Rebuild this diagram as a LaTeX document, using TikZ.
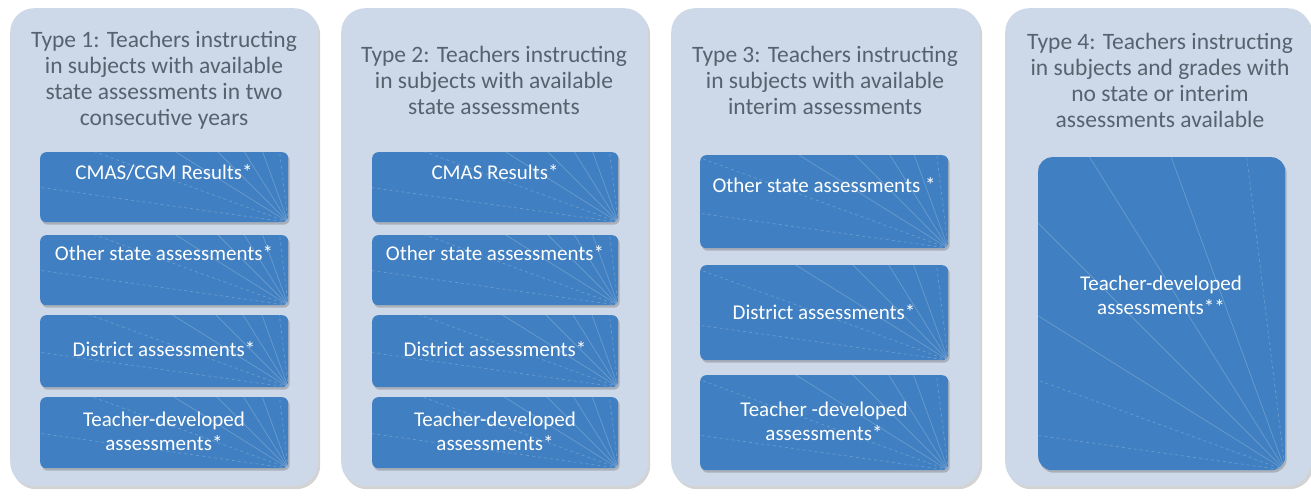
\documentclass[tikz,border=0pt]{standalone}
\usepackage{fontspec}
\setmainfont{Carlito}
\usetikzlibrary{shadows}
\definecolor{panelfill}{RGB}{205,217,233}
\definecolor{boxfill}{RGB}{64,127,193}
\definecolor{titlecol}{RGB}{88,98,110}
\tikzset{
  panel/.style={draw=none, fill=panelfill, rounded corners=24pt, anchor=north west,
    drop shadow={shadow xshift=2pt, shadow yshift=-3pt, opacity=.35}},
  rays/.style={path picture={
    \foreach \a/\s in {97/dashed,110/solid,122/solid,135/solid,148/solid,160/dashed,172/dashed}
      \draw[white, opacity=.2, line width=.8pt, \s] (path picture bounding box.south east) -- ++(\a:700pt);
  }},
  abox/.style={draw=none, fill=boxfill, rounded corners=6pt, anchor=north west, rays,
    drop shadow={shadow xshift=1.5pt, shadow yshift=-2.5pt, opacity=.45}},
  title/.style={text=titlecol, align=center, font=\fontsize{23.5}{26}\selectfont},
  btext/.style={text=white, align=center, font=\fontsize{21}{24}\selectfont}
}
\begin{document}
\begin{tikzpicture}[x=1pt,y=-1pt]
\useasboundingbox (0,0) rectangle (1311,495);
% panels
\node[panel, minimum width=308pt, minimum height=478pt] (p1) at (10,8) {};
\node[panel, minimum width=307pt, minimum height=478pt] (p2) at (341,8) {};
\node[panel, minimum width=309pt, minimum height=478pt] (p3) at (671,8) {};
\node[panel, minimum width=306pt, minimum height=478pt] (p4) at (1005,8) {};
% titles
\node[title] (t1) at (164,80) {Type 1: Teachers instructing\\in subjects with available\\state assessments in two\\consecutive years};
\node[title] (t2) at (494,80) {Type 2: Teachers instructing\\in subjects with available\\state assessments};
\node[title] (t3) at (825,80) {Type 3: Teachers instructing\\in subjects with available\\interim assessments};
\node[title] (t4) at (1160,80) {Type 4: Teachers instructing\\in subjects and grades with\\no state or interim\\assessments available};
% panel 1 boxes
\node[abox, minimum width=248pt, minimum height=70pt] (b11) at (40,152) {};
\node[abox, minimum width=248pt, minimum height=70pt] (b12) at (40,235) {};
\node[abox, minimum width=248pt, minimum height=72pt] (b13) at (40,315) {};
\node[abox, minimum width=248pt, minimum height=71pt] (b14) at (40,397) {};
\node[btext] (x11) at (164,172) {CMAS/CGM Results*};
\node[btext] (x12) at (164,253) {Other state assessments*};
\node[btext] (x13) at (164,349) {District assessments*};
\node[btext] (x14) at (164,431) {Teacher-developed\\assessments*};
% panel 2 boxes
\node[abox, minimum width=246pt, minimum height=70pt] (b21) at (372,152) {};
\node[abox, minimum width=246pt, minimum height=70pt] (b22) at (372,235) {};
\node[abox, minimum width=246pt, minimum height=72pt] (b23) at (372,315) {};
\node[abox, minimum width=246pt, minimum height=71pt] (b24) at (372,397) {};
\node[btext] (x21) at (495,172) {CMAS Results*};
\node[btext] (x22) at (495,253) {Other state assessments*};
\node[btext] (x23) at (495,349) {District assessments*};
\node[btext] (x24) at (495,431) {Teacher-developed\\assessments*};
% panel 3 boxes
\node[abox, minimum width=248pt, minimum height=93pt] (b31) at (700,155) {};
\node[abox, minimum width=248pt, minimum height=95pt] (b32) at (700,265) {};
\node[abox, minimum width=248pt, minimum height=95pt] (b33) at (700,375) {};
\node[btext] (x31) at (824,185) {Other state assessments *};
\node[btext] (x32) at (824,312) {District assessments*};
\node[btext] (x33) at (824,421) {Teacher -developed\\assessments*};
% panel 4 box
\node[abox, rounded corners=14pt, minimum width=247pt, minimum height=313pt] (b41) at (1038,157) {};
\node[btext] (x41) at (1161,295) {Teacher-developed\\assessments**};
\end{tikzpicture}
\end{document}
